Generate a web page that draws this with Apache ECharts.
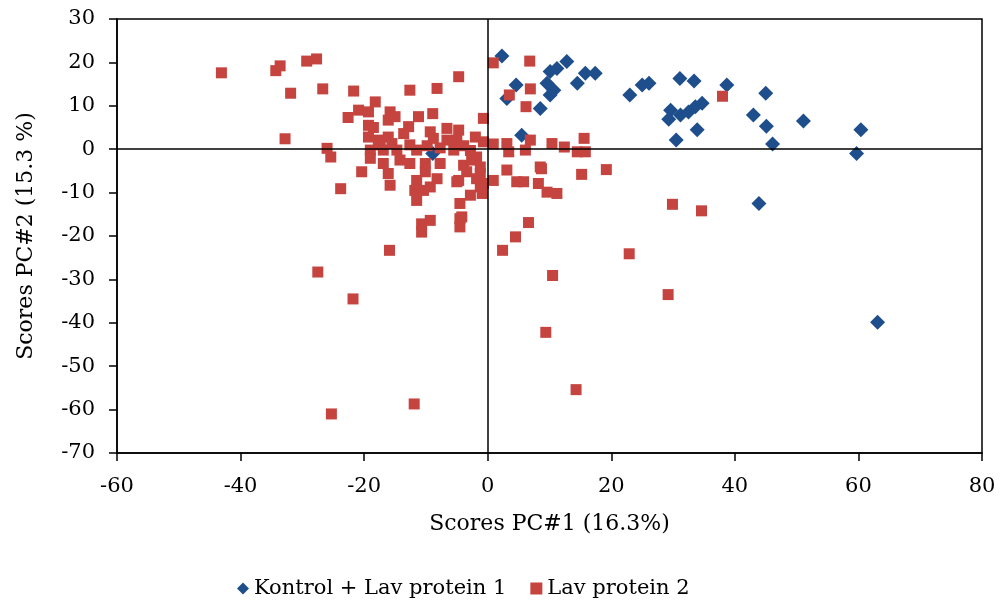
<!DOCTYPE html>
<html>
<head>
<meta charset="utf-8">
<script src="https://cdn.jsdelivr.net/npm/echarts@6/dist/echarts.min.js"></script>
<style>
html,body{margin:0;padding:0;background:#fff;}
#chart{width:1002px;height:606px;}
</style>
</head>
<body>
<div id="chart"></div>
<script>
// Series names
var seriesNames = ['Kontrol + Lav protein 1', 'Lav protein 2'];
var xTitle = 'Scores PC#1 (16.3%)';
var yTitle = 'Scores PC#2 (15.3 %)';

// Kontrol + Lav protein 1 (blue diamonds): [PC1, PC2]
var kontrol = [
  [2.3,21.5],[12.8,20.2],[11.2,18.6],[10.1,17.9],[4.6,14.8],[3.1,11.7],[9.6,15.2],[10.7,13.6],
  [10.1,12.5],[8.5,9.4],[14.5,15.2],[15.8,17.5],[17.4,17.5],[5.5,3.2],[23.0,12.5],[25.0,14.8],
  [26.1,15.2],[31.1,16.3],[33.4,15.7],[38.7,14.8],[45.0,12.9],[29.6,9.0],[29.3,6.9],[31.2,7.9],
  [32.5,8.6],[33.6,9.8],[34.7,10.6],[33.9,4.5],[30.5,2.1],[43.0,7.9],[45.1,5.3],[46.1,1.2],
  [51.1,6.5],[60.4,4.5],[59.7,-1.0],[43.9,-12.5],[63.1,-39.9],[-8.9,-1.0]
];

// Lav protein 2 (red squares): [PC1, PC2]
var lavProtein2 = [
  [-43.1,17.6],[-34.3,18.1],[-33.6,19.2],[-29.3,20.3],[-27.7,20.8],[-31.9,12.9],[-26.7,13.9],[-21.7,13.4],
  [-22.6,7.3],[-20.9,9.0],[-32.8,2.4],[-26.0,0.2],[-25.4,-1.8],[-23.8,-9.1],[-19.3,5.5],[-20.4,-5.2],
  [-4.7,16.7],[-12.6,13.6],[-8.2,14.0],[-18.2,10.9],[-19.3,8.6],[-15.8,8.6],[-15.0,7.5],[-16.1,6.7],
  [-11.2,7.5],[-8.9,8.2],[-0.7,7.1],[-18.5,5.0],[-19.3,2.8],[-17.7,2.1],[-16.1,2.8],[-15.5,1.3],
  [-13.6,3.6],[-12.8,5.2],[-9.3,4.0],[-8.8,2.5],[-6.6,4.8],[-4.7,4.4],[-6.6,2.1],[-5.0,2.1],
  [-2.0,2.8],[-0.7,1.7],[-19.0,-0.2],[-16.9,-0.2],[-14.7,-0.2],[-11.5,-0.2],[-7.7,0.3],[-5.5,-0.2],
  [-2.8,-0.3],[-17.4,1.0],[-12.6,1.0],[-9.8,0.8],[-3.9,0.8],[-19.0,-2.1],[-16.9,-3.3],[-14.2,-2.5],
  [-12.6,-3.3],[-16.1,-5.6],[-15.8,-8.3],[-10.1,-3.3],[-10.1,-5.2],[-7.7,-3.3],[-11.5,-7.2],[-11.8,-9.5],
  [-11.5,-11.8],[-8.2,-6.8],[-9.3,-8.7],[-10.4,-9.5],[-4.7,-7.2],[-3.4,-5.2],[-2.6,-2.5],[-1.8,-1.8],
  [-1.2,-5.6],[-0.7,-7.9],[0.9,-7.2],[-2.8,-10.6],[-4.5,-12.5],[-10.7,-17.2],[-9.3,-16.4],[-4.5,-16.0],
  [-4.5,-17.9],[-3.9,-3.7],[-1.2,-4.1],[-5.0,-7.5],[-1.8,-6.8],[-1.2,-8.7],[-0.9,-10.2],[-4.2,-15.6],
  [0.9,19.9],[6.8,20.3],[6.9,13.9],[3.5,12.5],[6.2,9.8],[38.0,12.2],[15.6,2.5],[6.9,2.1],
  [0.9,1.2],[3.1,1.3],[10.4,1.3],[3.4,-0.6],[6.1,-0.2],[12.4,0.5],[14.5,-0.6],[15.8,-0.6],
  [8.7,-4.5],[19.2,-4.7],[15.2,-5.8],[3.1,-4.8],[4.7,-7.5],[5.8,-7.5],[8.5,-4.1],[8.2,-7.9],
  [9.6,-9.9],[11.2,-10.2],[29.9,-12.7],[34.6,-14.2],[6.6,-16.9],[4.5,-20.2],[2.4,-23.3],[22.9,-24.1],
  [10.5,-29.1],[29.2,-33.5],[9.4,-42.2],[14.3,-55.4],[-27.5,-28.3],[-21.8,-34.5],[-15.9,-23.3],[-10.7,-19.1],
  [-25.3,-61.0],[-11.9,-58.7]
];

// Axis settings
var xMin = -60, xMax = 80, xStep = 20;
var yMin = -70, yMax = 30, yStep = 10;

var FONT = 'DejaVu Serif';
var chart = echarts.init(document.getElementById('chart'), null, {renderer: 'canvas'});
chart.setOption({
  animation: false,
  backgroundColor: '#ffffff',
  textStyle: {fontFamily: FONT, color: '#000'},
  grid: {left: 117, right: 20, top: 19, bottom: 153, show: true, borderColor: '#000', borderWidth: 1.5, backgroundColor: 'transparent'},
  legend: {
    bottom: 2, left: 232,
    itemGap: 24,
    itemWidth: 12, itemHeight: 12,
    textStyle: {fontFamily: FONT, fontSize: 21, color: '#000'},
    data: [
      {name: seriesNames[0], icon: 'diamond'},
      {name: seriesNames[1], icon: 'rect'}
    ]
  },
  xAxis: {
    type: 'value', min: xMin, max: xMax, interval: xStep,
    name: xTitle, nameLocation: 'middle', nameGap: 60,
    nameTextStyle: {fontFamily: FONT, fontSize: 22, color: '#000'},
    axisLine: {show: true, onZero: false, lineStyle: {color: '#000', width: 1.5}},
    axisTick: {show: true, inside: false, length: 8, lineStyle: {color: '#000', width: 1.5}},
    axisLabel: {margin: 23, fontFamily: FONT, fontSize: 21, color: '#000'},
    splitLine: {show: false}
  },
  yAxis: {
    type: 'value', min: yMin, max: yMax, interval: yStep,
    name: yTitle, nameLocation: 'middle', nameGap: 80,
    nameTextStyle: {fontFamily: FONT, fontSize: 22, color: '#000'},
    axisLine: {show: true, onZero: false, lineStyle: {color: '#000', width: 1.5}},
    axisTick: {show: true, inside: false, length: 8, lineStyle: {color: '#000', width: 1.5}},
    axisLabel: {margin: 22, fontFamily: FONT, fontSize: 21, color: '#000'},
    splitLine: {show: false}
  },
  series: [
    {
      name: seriesNames[0], type: 'scatter', data: kontrol,
      symbol: 'diamond', symbolSize: 15,
      itemStyle: {color: '#1F4E8C', opacity: 1},
      z: 3,
      markLine: {
        silent: true, symbol: 'none', animation: false,
        label: {show: false},
        lineStyle: {color: '#000', width: 1.5, type: 'solid'},
        data: [{xAxis: 0}, {yAxis: 0}]
      }
    },
    {
      name: seriesNames[1], type: 'scatter', data: lavProtein2,
      symbol: 'rect', symbolSize: 11,
      itemStyle: {color: '#C6443F', opacity: 1},
      z: 4
    }
  ]
});
</script>
</body>
</html>
